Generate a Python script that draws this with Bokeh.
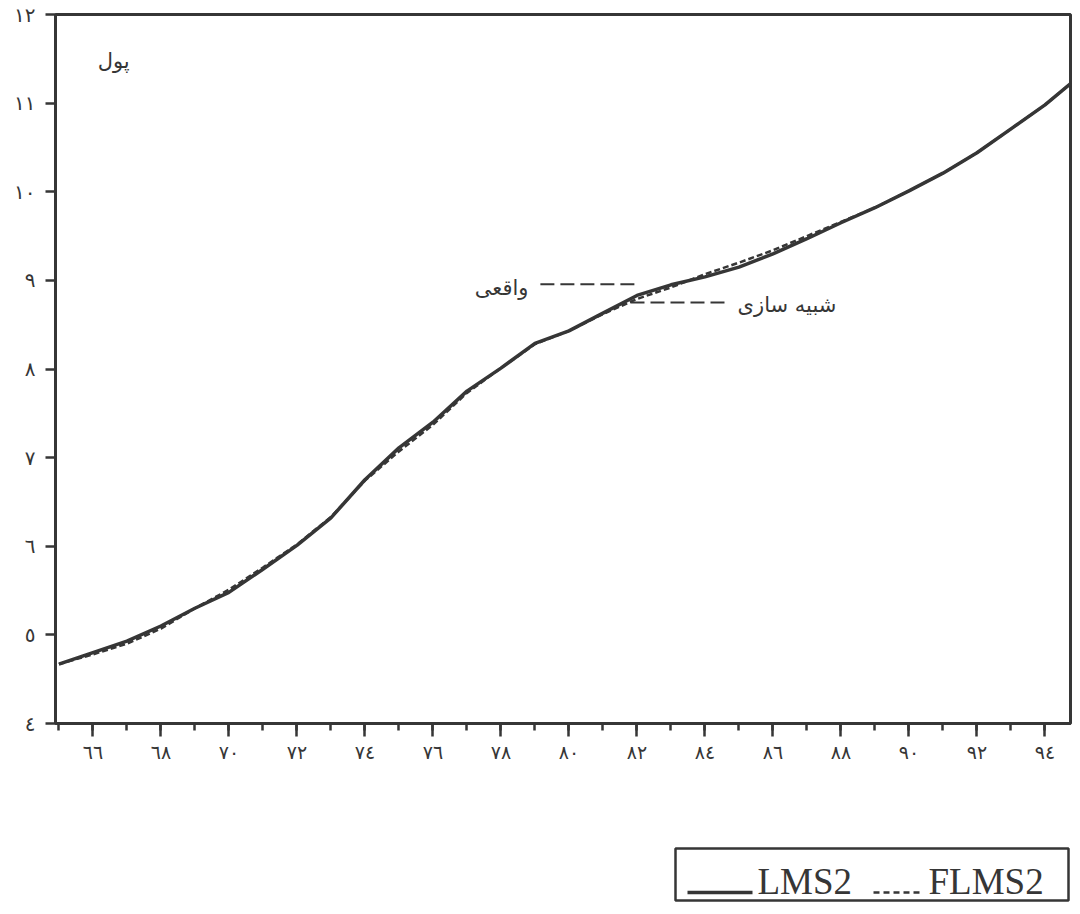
from bokeh.plotting import figure
from bokeh.layouts import column
from bokeh.models import Range1d, FixedTicker, Label
from bokeh.core.properties import value
from bokeh.embed import file_html
from bokeh.resources import INLINE

# ---- data ----
years = list(range(65, 96))
lms2 = [4.67, 4.80, 4.93, 5.10, 5.30, 5.48, 5.74, 6.01, 6.32, 6.75,
        7.11, 7.40, 7.75, 8.01, 8.29, 8.43, 8.63, 8.83, 8.95, 9.04,
        9.15, 9.30, 9.47, 9.65, 9.82, 10.01, 10.21, 10.44, 10.71, 10.98, 11.30]
flms2 = [4.67, 4.78, 4.90, 5.07, 5.30, 5.51, 5.76, 6.02, 6.33, 6.74,
         7.07, 7.37, 7.73, 8.01, 8.28, 8.43, 8.62, 8.79, 8.92, 9.07,
         9.20, 9.34, 9.50, 9.66, 9.82, 10.01, 10.21, 10.44, 10.71, 10.98, 11.30]
x_ticks = list(range(66, 95, 2))
x_minor = list(range(65, 96))
y_ticks = list(range(4, 13))
series_names = ["LMS2", "FLMS2"]
title_text = "پول"
actual_text = "واقعی"
sim_text = "شبیه سازی"

def arabic_digits(n):
    return "".join(chr(0x0660 + int(c)) for c in str(n))

INK = "#363636"
AR_FONT = "DejaVu Sans"
W = 1072
MAIN_H = 770
FRAME_L, FRAME_R = 55, 1070

p = figure(width=W, height=MAIN_H, output_backend="svg", toolbar_location=None,
           x_range=Range1d(64.9, 94.75), y_range=Range1d(4, 12))
p.min_border_left = FRAME_L
p.min_border_right = W - FRAME_R
p.min_border_top = 14
p.min_border_bottom = MAIN_H - 723
p.background_fill_color = "white"
p.border_fill_color = "white"
p.outline_line_color = INK
p.outline_line_width = 3
p.grid.visible = False

# axes
xa = p.xaxis[0]
xa.ticker = FixedTicker(ticks=x_ticks, minor_ticks=x_minor)
xa.major_label_overrides = {t: arabic_digits(t) for t in x_ticks}
xa.axis_line_width = 3
xa.axis_line_color = INK
xa.major_tick_line_width = 2.5
xa.major_tick_line_color = INK
xa.minor_tick_line_width = 2.5
xa.minor_tick_line_color = INK
xa.major_tick_out = 13
xa.major_tick_in = 0
xa.minor_tick_out = 7
xa.minor_tick_in = 0
xa.major_label_text_font = AR_FONT
xa.major_label_text_font_size = "19px"
xa.major_label_text_color = INK
xa.major_label_standoff = 4

ya = p.yaxis[0]
ya.ticker = FixedTicker(ticks=y_ticks, minor_ticks=[])
ya.major_label_overrides = {t: arabic_digits(t) for t in y_ticks}
ya.axis_line_width = 3
ya.axis_line_color = INK
ya.major_tick_line_width = 2.5
ya.major_tick_line_color = INK
ya.major_tick_out = 10
ya.major_tick_in = 0
ya.minor_tick_line_color = None
ya.major_label_text_font = AR_FONT
ya.major_label_text_font_size = "20px"
ya.major_label_text_color = INK
ya.major_label_standoff = 10

# series
solid_style = dict(line_color=INK, line_width=3.5)
dash_style = dict(line_color=INK, line_width=2.5, line_dash="6 3")
p.line(years, lms2, **solid_style)
p.line(years, flms2, **dash_style)

# annotations
for x, y, txt, align in [(66.61, 11.48, title_text, "center"),
                         (78.81, 8.91, actual_text, "right"),
                         (84.96, 8.72, sim_text, "left")]:
    p.add_layout(Label(x=x, y=y, text=txt, text_font=AR_FONT,
                       text_font_size="21px", text_color=INK,
                       text_align=align, text_baseline="middle"))
p.segment(x0=[79.16, 81.81], y0=[8.955, 8.75], x1=[82.02, 84.75], y1=[8.955, 8.75],
          line_color=INK, line_width=2, line_dash="14 6")

# legend panel (pixel-like coordinates; its frame aligns with the main frame)
LEG_H = 136
q = figure(width=W, height=LEG_H, output_backend="svg", toolbar_location=None,
           x_range=Range1d(FRAME_L, FRAME_R), y_range=Range1d(0, LEG_H),
           x_axis_location=None, y_axis_location=None)
q.min_border_left = FRAME_L
q.min_border_right = W - FRAME_R
q.min_border_top = 0
q.min_border_bottom = 0
q.grid.visible = False
q.outline_line_color = None
q.background_fill_color = "white"
q.border_fill_color = "white"

q.quad(left=[675], right=[1068], bottom=[6], top=[58],
       fill_color=None, line_color=INK, line_width=2.5)
q.segment(x0=[687], y0=[14], x1=[752], y1=[14], **solid_style)
q.segment(x0=[873], y0=[14], x1=[923], y1=[14], line_color=INK,
          line_width=2.5, line_dash="6 4")
q.text(x=[757, 928], y=[25, 25], text=series_names,
       text_font=value("Liberation Serif"), text_font_size="37px",
       text_color=INK, text_baseline="middle", text_align="left")

page = column(p, q, spacing=0)
open("out.html", "w").write(file_html(page, INLINE))
